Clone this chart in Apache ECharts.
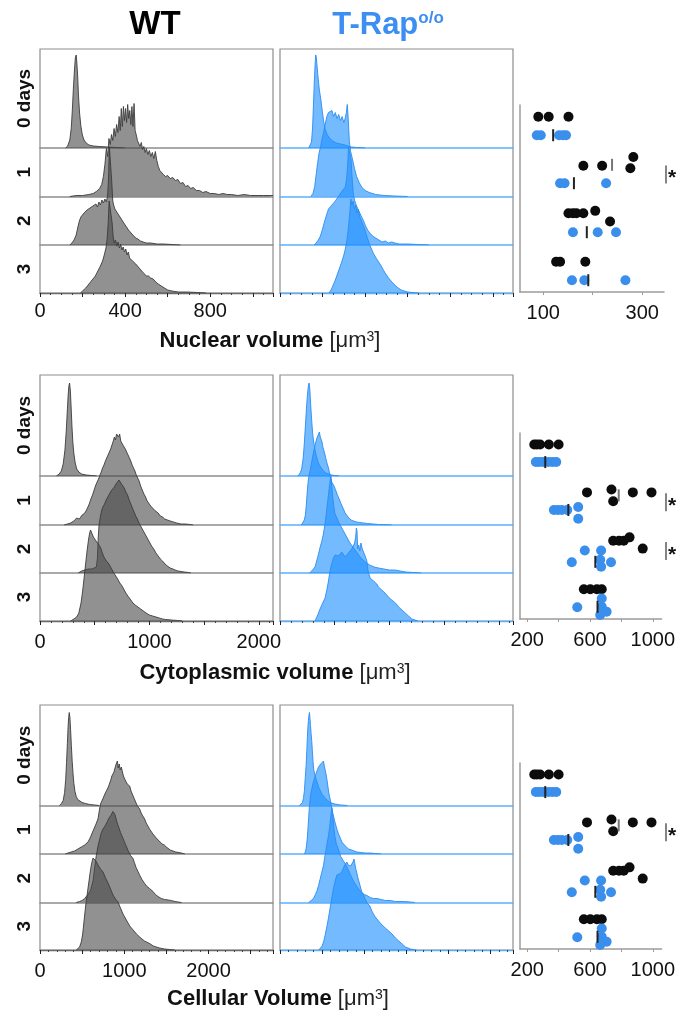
<!DOCTYPE html>
<html><head><meta charset="utf-8">
<script src="https://cdn.jsdelivr.net/npm/echarts@6/dist/echarts.min.js"></script>
<style>html,body{margin:0;padding:0;background:#fff}#c{width:678px;height:1013px}</style>
</head><body><div id="c"></div>
<script>
// ---------------- DATA ----------------
const dayLabels = ['0 days', '1', '2', '3'];
const groupNames = ['WT', 'T-Rap'];
const measureNames = ['Nuclear volume', 'Cytoplasmic volume', 'Cellular Volume'];

// Histograms: [volume, relative height] (height in panel pixels above the day's baseline)
const nucWT0 = [[120,0],[130,2],[140,8],[147,20],[152,38],[157,60],[162,78],[166,90],[170,93],[173,86],[177,72],[181,52],[186,35],[192,22],[199,13],[207,8],[217,5],[230,3],[250,2],[280,1.5],[320,1],[360,0.5],[400,0]];
const nucWT1 = [[140,0],[170,1],[200,1],[230,2],[250,3],[265,5],[280,8],[290,12],[298,20],[305,32],[312,48],[318,40],[324,58],[330,52],[336,62],[342,56],[348,68],[354,60],[360,72],[366,64],[372,80],[377,66],[382,88],[387,70],[392,90],[397,76],[402,88],[407,74],[412,92],[417,78],[422,86],[427,72],[432,90],[437,70],[442,93],[447,66],[452,62],[458,56],[464,58],[470,50],[476,54],[482,47],[488,50],[494,44],[500,48],[507,42],[514,46],[521,40],[528,44],[535,38],[542,45],[549,36],[556,30],[563,26],[570,24],[580,22],[590,20],[600,21],[612,18],[624,19],[636,16],[648,17],[660,13],[672,14],[684,10],[696,11],[708,8],[720,9],[735,6],[750,6],[765,4],[780,5],[800,3],[820,3],[840,2],[860,3],[880,2],[900,2],[930,1],[960,2],[990,1],[1020,1],[1050,1],[1080,1],[1095,1]];
const nucWT2 = [[140,0],[150,2],[160,5],[170,10],[178,18],[185,24],[192,28],[200,27],[207,32],[214,30],[221,35],[228,33],[235,37],[242,35],[249,39],[256,37],[263,41],[270,38],[277,43],[284,40],[291,45],[298,42],[305,46],[312,43],[318,50],[322,66],[326,98],[333,98],[337,64],[342,44],[346,40],[352,36],[358,38],[364,32],[370,33],[376,28],[382,29],[388,24],[394,25],[400,20],[408,19],[416,15],[424,14],[432,11],[440,10],[450,7],[460,6],[472,4],[485,3],[500,2],[520,2],[550,1],[580,1],[620,0.5],[660,0]];
const nucWT3 = [[190,0],[200,2],[215,5],[230,9],[245,13],[260,17],[272,22],[284,27],[294,32],[302,38],[310,45],[316,55],[321,72],[325,92],[334,92],[339,70],[344,56],[349,50],[355,53],[361,47],[367,51],[373,45],[379,49],[385,43],[391,46],[397,41],[403,44],[409,38],[415,41],[421,35],[428,37],[435,32],[442,34],[450,29],[458,30],[466,25],[474,26],[482,21],[490,21],[500,17],[510,17],[520,15],[532,14],[544,11],[556,9],[570,7],[585,5],[600,3],[620,2],[650,1],[690,1],[740,0.5],[780,0]];
const nucKO0 = [[135,0],[142,2],[148,6],[153,20],[157,42],[161,65],[165,84],[168,93],[171,90],[175,80],[180,68],[185,58],[191,50],[198,38],[205,27],[212,19],[220,14],[232,10],[248,7],[265,5],[285,4],[305,3],[320,2],[335,1],[360,0.5],[400,0]];
const nucKO1 = [[145,0],[155,3],[163,10],[170,22],[177,34],[184,44],[191,50],[198,58],[205,64],[212,72],[220,80],[228,84],[236,82],[244,86],[252,80],[260,84],[268,78],[276,82],[284,76],[292,80],[300,74],[306,78],[312,84],[316,92],[320,80],[326,55],[332,45],[340,38],[350,28],[360,20],[372,14],[385,9],[400,6],[420,4],[450,2],[490,1],[540,0.5],[600,0]];
const nucKO2 = [[160,0],[170,2],[180,5],[190,9],[200,16],[210,24],[220,31],[228,36],[236,35],[244,40],[252,38],[260,44],[268,42],[276,49],[284,47],[292,54],[300,52],[307,58],[313,66],[318,80],[322,98],[330,96],[334,85],[338,70],[344,52],[350,45],[358,40],[366,36],[375,32],[384,28],[393,24],[402,19],[412,15],[422,12],[435,9],[450,7],[465,5],[480,3],[495,4],[510,2],[525,3],[540,2],[560,1],[600,1],[650,0.5],[700,0]];
const nucKO3 = [[230,0],[240,3],[250,8],[260,13],[270,19],[280,25],[290,31],[300,38],[308,45],[316,55],[322,66],[328,80],[333,94],[338,88],[344,92],[350,84],[356,88],[362,80],[368,84],[375,76],[382,74],[390,68],[398,64],[406,58],[414,56],[422,48],[430,47],[438,40],[446,39],[454,34],[462,32],[470,29],[478,26],[486,24],[494,20],[502,19],[510,15],[518,14],[526,11],[534,10],[544,7],[556,5],[570,3],[585,2],[600,1],[620,0.5],[650,0]];

const cytWT0 = [[150,0],[175,2],[195,5],[212,12],[228,26],[240,45],[250,66],[258,82],[264,90],[270,93],[277,86],[284,70],[292,50],[300,34],[310,22],[322,13],[336,7],[355,4],[380,2],[420,1],[470,0.5],[520,0]];
const cytWT1 = [[220,0],[250,1],[280,2],[310,4],[335,7],[360,6],[385,10],[410,12],[430,16],[450,21],[465,26],[480,30],[495,35],[510,40],[522,38],[535,46],[548,50],[560,53],[572,57],[585,60],[598,64],[610,62],[622,70],[634,72],[646,76],[658,80],[670,84],[680,88],[690,85],[700,91],[709,93],[718,88],[728,91],[738,84],[748,86],[758,80],[768,82],[780,76],[792,75],[805,70],[818,68],[830,64],[842,60],[855,57],[868,54],[880,50],[893,47],[906,44],[920,39],[935,35],[950,31],[965,28],[980,24],[996,22],[1012,19],[1028,17],[1045,15],[1062,13],[1080,12],[1100,9],[1120,8],[1140,6],[1165,5],[1190,4],[1220,3],[1250,2],[1290,1],[1330,1],[1370,0.5],[1400,0]];
const cytWT2 = [[350,0],[380,2],[410,3],[440,4],[470,4],[495,5],[515,6],[525,15],[532,35],[540,48],[550,55],[562,62],[575,66],[590,69],[605,73],[620,76],[635,79],[650,82],[665,84],[680,86],[695,89],[710,91],[722,93],[733,92],[745,89],[757,88],[770,85],[785,81],[800,78],[815,73],[830,69],[845,65],[860,61],[875,57],[890,54],[905,50],[920,47],[940,43],[960,39],[980,35],[1000,31],[1020,27],[1040,24],[1060,20],[1080,17],[1100,14],[1120,12],[1143,9],[1165,7],[1190,5],[1215,4],[1235,3],[1260,2],[1290,1.5],[1320,1],[1357,0.5],[1380,0]];
const cytWT3 = [[280,0],[310,2],[335,4],[355,8],[375,18],[390,30],[405,45],[418,58],[430,70],[442,80],[452,87],[462,91],[470,93],[478,89],[488,84],[500,82],[512,80],[525,79],[540,76],[555,73],[570,68],[585,64],[600,61],[615,59],[630,57],[645,54],[660,51],[675,48],[690,46],[710,42],[730,38],[750,35],[770,31],[790,27],[810,24],[830,21],[850,18],[870,16],[895,14],[920,12],[945,10],[970,8],[1000,6],[1030,5],[1060,4],[1090,3],[1120,2],[1150,1.5],[1200,1],[1260,0.5],[1300,0]];
const cytKO0 = [[160,0],[180,2],[198,7],[212,18],[222,32],[232,50],[242,68],[250,80],[258,89],[266,93],[273,86],[281,70],[290,55],[299,42],[308,34],[318,27],[330,21],[345,15],[360,11],[378,8],[398,5],[420,3],[445,2],[470,1],[500,0.5],[540,0]];
const cytKO1 = [[195,0],[210,2],[222,5],[232,10],[242,22],[250,35],[258,44],[266,50],[275,54],[285,60],[295,66],[305,72],[315,77],[325,82],[335,86],[345,89],[352,91],[360,93],[368,88],[376,86],[384,83],[392,78],[402,74],[412,70],[422,65],[432,61],[443,57],[453,52],[463,47],[473,43],[483,41],[494,39],[504,37],[515,33],[525,30],[534,28],[545,25],[555,22],[565,20],[580,16],[595,12],[611,10],[630,7],[650,5],[672,4],[700,3],[730,2.5],[763,2],[800,1.5],[850,1],[900,0.5],[977,0.3],[1020,0]];
const cytKO2 = [[270,0],[290,2],[305,3],[320,6],[335,12],[350,18],[365,25],[380,31],[395,38],[410,48],[422,58],[432,68],[442,77],[450,85],[458,92],[465,97],[472,90],[480,78],[490,68],[500,60],[520,55],[540,50],[560,46],[580,42],[600,38],[620,34],[640,30],[660,27],[680,24],[700,21],[720,18],[740,15],[760,13],[780,11],[820,8],[860,6],[900,5],[950,4],[1000,3],[1050,3],[1100,2],[1150,1],[1220,0.5],[1290,0]];
const cytKO3 = [[320,0],[345,6],[366,12],[390,18],[412,23],[428,31],[440,38],[450,45],[458,50],[470,56],[488,63],[503,66],[519,67],[535,65],[550,66],[565,69],[580,68],[595,64],[610,66],[625,68],[641,70],[655,72],[670,75],[682,78],[692,84],[698,93],[704,90],[710,72],[720,76],[730,70],[740,78],[752,72],[763,73],[775,66],[785,64],[794,60],[802,52],[810,48],[824,43],[840,42],[855,40],[870,38],[885,37],[900,34],[915,33],[930,31],[946,30],[960,28],[976,27],[990,24],[1007,23],[1022,21],[1040,20],[1055,18],[1069,17],[1085,14],[1100,12],[1115,11],[1130,10],[1145,8],[1160,6],[1175,5],[1190,3],[1205,2],[1221,1],[1260,0]];

const cellWT0 = [[230,0],[255,2],[275,5],[292,13],[305,26],[315,43],[325,62],[333,78],[340,88],[347,93],[355,88],[363,76],[372,60],[382,44],[392,32],[402,22],[415,14],[430,9],[448,6],[470,4],[500,3],[540,2],[590,1],[650,0.5],[700,0]];
const cellWT1 = [[300,0],[332,1],[370,2],[411,3],[450,5],[490,7],[530,9],[570,12],[600,17],[629,23],[660,29],[688,35],[705,44],[718,50],[728,52],[745,55],[760,58],[775,61],[787,62],[800,65],[815,68],[827,70],[840,74],[853,78],[866,80],[878,82],[890,86],[900,89],[910,88],[918,93],[928,86],[940,90],[952,84],[965,87],[978,82],[990,78],[1005,75],[1020,73],[1035,70],[1050,69],[1064,68],[1080,63],[1095,60],[1110,57],[1124,55],[1140,51],[1155,48],[1170,46],[1183,45],[1200,41],[1220,38],[1242,35],[1260,31],[1280,28],[1300,25],[1321,23],[1340,20],[1360,18],[1380,16],[1400,15],[1425,12],[1450,10],[1475,9],[1499,7],[1520,6],[1545,4],[1578,3],[1610,2],[1650,1.5],[1677,1],[1720,0]];
const cellWT2 = [[430,0],[470,1],[500,2],[530,4],[570,8],[600,12],[630,22],[650,36],[668,47],[690,57],[710,64],[728,70],[745,73],[760,75],[775,77],[787,79],[800,81],[815,84],[828,86],[840,87],[852,89],[865,91],[878,93],[890,88],[902,84],[915,80],[926,77],[940,74],[955,70],[970,67],[985,64],[1000,61],[1015,58],[1030,55],[1044,52],[1060,50],[1075,47],[1090,45],[1104,44],[1120,40],[1140,35],[1163,31],[1185,27],[1210,23],[1242,19],[1270,16],[1300,14],[1320,12],[1341,11],[1370,8],[1400,6],[1440,4],[1480,3],[1520,2.5],[1559,2],[1600,1],[1640,0.5],[1680,0]];
const cellWT3 = [[430,0],[451,1],[470,3],[490,8],[505,15],[518,25],[530,35],[543,45],[556,53],[570,62],[583,70],[596,78],[609,85],[620,89],[630,92],[641,93],[652,91],[664,89],[676,87],[688,85],[702,83],[718,81],[733,80],[748,78],[763,75],[778,72],[793,70],[807,67],[822,64],[837,61],[852,58],[866,55],[880,53],[895,51],[910,50],[926,48],[945,44],[965,40],[985,36],[1005,33],[1025,30],[1045,27],[1065,24],[1084,22],[1105,20],[1125,18],[1145,16],[1164,15],[1183,13],[1210,11],[1240,9],[1265,8],[1282,7],[1310,6],[1345,4],[1380,3],[1420,2],[1479,1],[1540,0.5],[1600,0]];
const cellKO0 = [[230,0],[250,1],[265,3],[278,7],[290,15],[300,28],[310,40],[318,55],[325,68],[330,77],[337,85],[343,90],[349,93],[355,88],[362,80],[369,72],[377,64],[384,55],[392,44],[400,36],[415,30],[430,26],[460,18],[500,11],[540,7],[595,3],[650,1.5],[720,0.5],[800,0]];
const cellKO1 = [[290,0],[305,3],[315,8],[326,18],[337,32],[349,48],[362,58],[377,65],[390,70],[404,74],[417,78],[430,81],[444,84],[457,87],[470,89],[484,90],[496,88],[506,91],[516,93],[526,88],[536,84],[546,80],[556,75],[566,69],[576,63],[586,58],[595,55],[605,50],[615,45],[625,41],[635,38],[645,34],[655,31],[665,28],[675,25],[690,21],[705,18],[720,15],[734,12],[755,10],[775,8],[795,6],[814,5],[850,4],[880,3],[913,2],[960,1.5],[1010,1],[1072,1],[1130,0.5],[1200,0]];
const cellKO2 = [[340,0],[370,2],[397,4],[420,8],[440,12],[457,17],[475,23],[495,30],[516,37],[530,45],[545,52],[560,60],[576,67],[590,76],[600,84],[608,90],[615,95],[622,92],[630,84],[640,74],[652,66],[665,60],[675,57],[690,54],[705,50],[720,46],[734,44],[750,42],[765,40],[780,38],[794,36],[810,33],[825,30],[840,27],[854,25],[870,22],[890,19],[913,16],[940,13],[970,10],[1000,8],[1032,7],[1070,5],[1110,4],[1151,4],[1200,3],[1250,2],[1310,2],[1370,1],[1469,1],[1550,0.5],[1600,0]];
const cellKO3 = [[460,0],[476,1],[500,4],[520,9],[536,15],[555,23],[575,32],[595,42],[615,52],[635,62],[655,69],[675,75],[690,77],[705,76],[720,78],[734,78],[748,81],[762,84],[778,86],[794,88],[808,85],[822,87],[838,84],[854,85],[866,88],[878,91],[886,93],[893,90],[902,80],[912,77],[922,73],[933,72],[945,66],[958,62],[970,58],[982,56],[993,55],[1005,52],[1020,50],[1035,47],[1052,48],[1066,44],[1080,41],[1096,38],[1112,38],[1130,33],[1150,31],[1170,29],[1191,28],[1210,25],[1230,24],[1250,22],[1270,22],[1290,19],[1310,17],[1330,16],[1350,15],[1370,12],[1390,11],[1410,9],[1429,8],[1450,6],[1470,5],[1489,3],[1520,2],[1548,1],[1580,0.5],[1620,0]];

// Dot plots: [mean volume per replicate, day, jitter within the day row]
const nucDotWT = [[90,0,-.19],[111,0,-.19],[151,0,-.19],[181,1,-.18],[219,1,-.18],[282,1,-.36],[276,1,-.13],[151,2,-.2],[160,2,-.2],[167,2,-.2],[181,2,-.2],[205,2,-.25],[235,2,-.03],[126,3,-.2],[134,3,-.2],[185,3,-.2]];
const nucDotKO = [[87,0,.19],[95,0,.19],[132,0,.19],[140,0,.19],[146,0,.19],[134,1,.18],[143,1,.18],[227,1,.18],[160,2,.19],[210,2,.19],[247,2,.19],[158,3,.18],[183,3,.18],[266,3,.18]];
const nucMeanWT = [[239,1,-.2]];
const nucMeanKO = [[120,0,.19],[162,1,.18],[188,2,.19],[191,3,.18]];
const cytDotWT = [[245,0,-.18],[262,0,-.18],[282,0,-.18],[338,0,-.18],[400,0,-.18],[581,1,-.2],[737,1,-.26],[748,1,-.02],[873,1,-.2],[992,1,-.2],[748,2,-.21],[785,2,-.21],[815,2,-.21],[852,2,-.28],[936,2,-.05],[561,3,-.22],[602,3,-.22],[644,3,-.22],[675,3,-.22]];
const cytDotKO = [[255,0,.18],[275,0,.18],[300,0,.18],[335,0,.18],[360,0,.18],[385,0,.18],[370,1,.16],[395,1,.16],[420,1,.16],[455,1,.16],[525,1,.1],[525,1,.34],[567,2,-.01],[671,2,-.01],[484,2,.23],[671,2,.32],[734,2,.23],[665,2,.18],[519,3,.15],[675,3,-.03],[675,3,.14],[706,3,.24],[665,3,.31]];
const cytMeanWT = [[783,1,-.14]];
const cytMeanKO = [[315,0,.18],[462,1,.16],[634,2,.22],[648,3,.14]];
const cellDotWT = [[245,0,-.18],[262,0,-.18],[282,0,-.18],[338,0,-.18],[400,0,-.18],[581,1,-.2],[737,1,-.26],[748,1,-.02],[873,1,-.2],[992,1,-.2],[748,2,-.21],[785,2,-.21],[815,2,-.21],[852,2,-.28],[936,2,-.05],[561,3,-.22],[602,3,-.22],[644,3,-.22],[675,3,-.22]];
const cellDotKO = [[255,0,.18],[275,0,.18],[300,0,.18],[335,0,.18],[360,0,.18],[385,0,.18],[370,1,.16],[395,1,.16],[420,1,.16],[455,1,.16],[525,1,.1],[525,1,.34],[567,2,-.01],[671,2,-.01],[484,2,.23],[671,2,.32],[734,2,.23],[665,2,.18],[519,3,.15],[675,3,-.03],[675,3,.14],[706,3,.24],[665,3,.31]];
const cellMeanWT = [[783,1,-.14]];
const cellMeanKO = [[315,0,.18],[462,1,.16],[634,2,.22],[648,3,.14]];

// significance marks (day rows with *)
const nucSig = [1];
const cytSig = [1, 2];
const cellSig = [1];

// axis tick values
const nucHistLabels = [0, 400, 800];
const cytHistLabels = [0, 1000, 2000];
const cellHistLabels = [0, 1000, 2000];
const nucDotTicks = [100, 200, 300], nucDotLabels = [100, 300];
const cytDotTicks = [200, 400, 600, 800, 1000], cytDotLabels = [200, 600, 1000];
const cellDotTicks = [200, 400, 600, 800, 1000], cellDotLabels = [200, 600, 1000];

// ---------------- LAYOUT / STYLE ----------------
const FONT = '"Liberation Sans", Arial, Helvetica, sans-serif';
const WT_LINE = '#3c3c3c', WT_FILL = 'rgba(72,72,72,0.6)', WT_BASE = '#8d8d8d';
const KO_LINE = '#2a8cf2', KO_FILL = 'rgba(30,144,255,0.62)', KO_BASE = '#5cb0fb';
const DOT_BLACK = '#0c0c0c', DOT_BLUE = '#3a8eec';
const plain = v => String(v);

const measures = [
  {name: measureNames[0], wt: [nucWT0, nucWT1, nucWT2, nucWT3], ko: [nucKO0, nucKO1, nucKO2, nucKO3],
   xMax: 1095, interval: 200, minorSplit: 4, labels: nucHistLabels,
   dotWT: nucDotWT, dotKO: nucDotKO, meanWT: nucMeanWT, meanKO: nucMeanKO, sig: nucSig,
   dotMin: 53, dotMax: 344, dotTicks: nucDotTicks, dotLabels: nucDotLabels},
  {name: measureNames[1], wt: [cytWT0, cytWT1, cytWT2, cytWT3], ko: [cytKO0, cytKO1, cytKO2, cytKO3],
   xMax: 2130, interval: 500, minorSplit: 5, labels: cytHistLabels,
   dotWT: cytDotWT, dotKO: cytDotKO, meanWT: cytMeanWT, meanKO: cytMeanKO, sig: cytSig,
   dotMin: 154, dotMax: 1056, dotTicks: cytDotTicks, dotLabels: cytDotLabels},
  {name: measureNames[2], wt: [cellWT0, cellWT1, cellWT2, cellWT3], ko: [cellKO0, cellKO1, cellKO2, cellKO3],
   xMax: 2765, interval: 500, minorSplit: 5, labels: cellHistLabels,
   dotWT: cellDotWT, dotKO: cellDotKO, meanWT: cellMeanWT, meanKO: cellMeanKO, sig: cellSig,
   dotMin: 154, dotMax: 1056, dotTicks: cellDotTicks, dotLabels: cellDotLabels}
];
const layout = [
  {top: 49, base: [148, 196.5, 245, 293], dotTop: 105, dotBottom: 292, yMin: -0.433, yMax: 3.423, titleX: 270, titleY: 341, labelMargin: 8},
  {top: 375, base: [476, 525, 573, 621], dotTop: 433, dotBottom: 619, yMin: -0.415, yMax: 3.39, titleX: 275, titleY: 673, labelMargin: 11},
  {top: 705, base: [805.5, 854, 902.5, 950], dotTop: 763, dotBottom: 949, yMin: -0.415, yMax: 3.39, titleX: 278, titleY: 999, labelMargin: 11}
];
const PANEL_LEFT = [40, 280], PANEL_W = 233;

const grids = [], xAxes = [], yAxes = [], series = [], dotGridIdx = [];

function addHist(m, lay, left, isKO) {
  const sets = isKO ? m.ko : m.wt;
  sets.forEach((d, r) => {
    const gi = grids.length;
    const last = r === 3;
    grids.push({left: left, width: PANEL_W, top: lay.top, height: lay.base[r] - lay.top,
      show: last, borderColor: '#8e8e8e', borderWidth: 1.2, backgroundColor: 'transparent'});
    xAxes.push({gridIndex: gi, type: 'value', min: 0, max: m.xMax, interval: m.interval,
      axisLine: {show: true, onZero: false, lineStyle: {color: last ? (isKO ? KO_BASE : '#6a6a6a') : (isKO ? KO_BASE : WT_BASE), width: last ? 1.3 : 1.6}},
      axisTick: {show: last, length: 4, lineStyle: {color: '#222', width: 1}},
      minorTick: {show: last, splitNumber: m.minorSplit, length: 2, lineStyle: {color: '#444', width: 1}},
      axisLabel: {show: last && !isKO, customValues: m.labels, formatter: plain, margin: lay.labelMargin, fontSize: 20, color: '#111', fontFamily: FONT},
      splitLine: {show: false}, minorSplitLine: {show: false}});
    yAxes.push({gridIndex: gi, type: 'value', min: 0, max: lay.base[r] - lay.top, show: false});
    series.push({type: 'line', name: (isKO ? groupNames[1] : groupNames[0]) + ' ' + dayLabels[r],
      xAxisIndex: gi, yAxisIndex: gi, data: d, symbol: 'none', showSymbol: false, smooth: false,
      lineStyle: {color: isKO ? KO_LINE : WT_LINE, width: 0.9},
      areaStyle: {color: isKO ? KO_FILL : WT_FILL, opacity: 1},
      z: 2 + r, silent: true});
  });
}

function toXY(arr) { return arr.map(p => [p[0], p[1] + p[2]]); }

function addDots(m, lay) {
  const gi = grids.length;
  dotGridIdx.push(gi);
  grids.push({left: 520, width: 144, top: lay.dotTop, height: lay.dotBottom - lay.dotTop});
  xAxes.push({gridIndex: gi, type: 'value', min: m.dotMin, max: m.dotMax,
    axisLine: {show: true, onZero: false, lineStyle: {color: '#9c9c9c', width: 1.5}},
    axisTick: {show: true, customValues: m.dotTicks, length: 3, lineStyle: {color: '#9c9c9c'}},
    axisLabel: {customValues: m.dotLabels, formatter: plain, margin: 11, fontSize: 20, color: '#111', fontFamily: FONT},
    splitLine: {show: false}});
  yAxes.push({gridIndex: gi, type: 'value', min: lay.yMin, max: lay.yMax, inverse: true,
    axisLine: {show: true, onZero: false, lineStyle: {color: '#9c9c9c', width: 1.5}},
    axisTick: {show: false}, axisLabel: {show: false}, splitLine: {show: false}});
  series.push({type: 'scatter', xAxisIndex: gi, yAxisIndex: gi, data: toXY(m.dotWT), symbolSize: 10,
    itemStyle: {color: DOT_BLACK, opacity: 1}, z: 3, silent: true});
  series.push({type: 'scatter', xAxisIndex: gi, yAxisIndex: gi, data: toXY(m.dotKO), symbolSize: 10,
    itemStyle: {color: DOT_BLUE, opacity: 1}, z: 3, silent: true});
  series.push({type: 'scatter', xAxisIndex: gi, yAxisIndex: gi, data: toXY(m.meanWT), symbol: 'rect', symbolSize: [2, 12],
    itemStyle: {color: '#777', opacity: 1}, z: 4, silent: true});
  series.push({type: 'scatter', xAxisIndex: gi, yAxisIndex: gi, data: toXY(m.meanKO), symbol: 'rect', symbolSize: [2, 12],
    itemStyle: {color: '#222', opacity: 1}, z: 4, silent: true});
}

measures.forEach((m, i) => {
  addHist(m, layout[i], PANEL_LEFT[0], false);
  addHist(m, layout[i], PANEL_LEFT[1], true);
  addDots(m, layout[i]);
});

// text graphics
const graphics = [];
graphics.push({type: 'text', x: 155, y: 25, style: {text: groupNames[0], fontFamily: FONT, fontSize: 33, fontWeight: 'bold', fill: '#000', align: 'center', verticalAlign: 'middle'}});
graphics.push({type: 'text', x: 388, y: 25, style: {text: '{a|' + groupNames[1] + '}{b|o/o}', align: 'center', verticalAlign: 'middle', fontFamily: FONT,
  rich: {a: {fontSize: 31, fontWeight: 'bold', fill: '#3d8ef2', fontFamily: FONT}, b: {fontSize: 17, fontWeight: 'bold', fill: '#3d8ef2', verticalAlign: 'top', fontFamily: FONT}}}});
measures.forEach((m, i) => {
  const lay = layout[i];
  graphics.push({type: 'text', x: lay.titleX, y: lay.titleY, style: {
    text: '{b|' + m.name + '}{n| [μm}{s|3}{n|]}', align: 'center', verticalAlign: 'middle', fontFamily: FONT,
    rich: {b: {fontSize: 22, fontWeight: 'bold', fill: '#111', fontFamily: FONT},
           n: {fontSize: 22, fill: '#222', fontFamily: FONT},
           s: {fontSize: 14, fill: '#222', verticalAlign: 'top', fontFamily: FONT}}}});
  const edges = [lay.top].concat(lay.base);
  dayLabels.forEach((t, r) => {
    graphics.push({type: 'text', x: 25, y: (edges[r] + edges[r + 1]) / 2, rotation: Math.PI / 2,
      style: {text: t, fontFamily: FONT, fontSize: 19, fontWeight: 'bold', fill: '#111', align: 'center', verticalAlign: 'middle'}});
  });
});

const chart = echarts.init(document.getElementById('c'), null, {renderer: 'canvas'});
chart.setOption({animation: false, backgroundColor: '#fff', grid: grids, xAxis: xAxes, yAxis: yAxes, series: series, graphic: graphics});

// significance brackets, placed on the day rows through the dot-plot axes
measures.forEach((m, i) => {
  m.sig.forEach(r => {
    const yc = chart.convertToPixel({gridIndex: dotGridIdx[i]}, [m.dotMax, r])[1];
    graphics.push({type: 'line', shape: {x1: 666, y1: yc - 9, x2: 666, y2: yc + 9}, style: {stroke: '#666', lineWidth: 1.6}});
    graphics.push({type: 'text', x: 668, y: yc + 4, style: {text: '*', fontFamily: FONT, fontSize: 21, fontWeight: 'bold', fill: '#111', align: 'left', verticalAlign: 'middle'}});
  });
});
chart.setOption({graphic: graphics});
</script>
</body></html>
